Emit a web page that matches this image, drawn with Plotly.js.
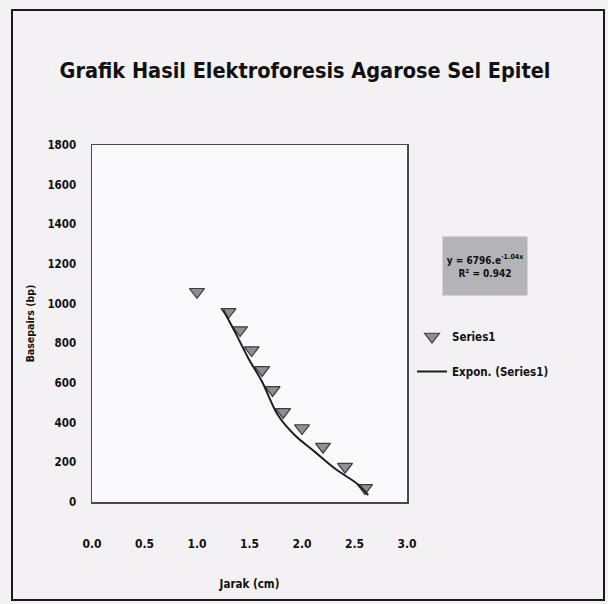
<!DOCTYPE html>
<html>
<head>
<meta charset="utf-8">
<script src="https://cdn.plot.ly/plotly-3.0.1.min.js"></script>
<style>html,body{margin:0;padding:0;background:#f3f1f4;}#chart{width:608px;height:604px;}</style>
</head>
<body>
<div id="chart"></div>
<script>
// Data
const jarak = [1.00, 1.30, 1.41, 1.52, 1.62, 1.72, 1.82, 2.00, 2.20, 2.41, 2.60];
const basepairs = [1060, 959, 867, 766, 666, 565, 454, 373, 279, 178, 71];
const trendX = [1.25, 1.36, 1.49, 1.62, 1.77, 1.93, 2.12, 2.31, 2.54, 2.63];
const trendY = [968, 859, 724, 606, 439, 338, 254, 170, 86, 35];
const xTicks = [0.0, 0.5, 1.0, 1.5, 2.0, 2.5, 3.0];
const yTicks = [0, 200, 400, 600, 800, 1000, 1200, 1400, 1600, 1800];

const FONT = "'DejaVu Sans Condensed', 'Liberation Sans Narrow', sans-serif";

const L = 92, R = 407, T = 145, B = 502, W = 608, H = 604;
const px = v => (v - L) / (R - L);
const py = v => (B - v) / (B - T);

const traces = [
  {
    type: 'scatter', mode: 'markers', name: 'Series1',
    x: jarak, y: basepairs, legendgroup: 'a',
    marker: {symbol: 'triangle-down', size: 13, color: '#8f8f93', line: {color: '#3c3c40', width: 1.2}}
  },
  {
    type: 'scatter', mode: 'lines', name: 'Expon. (Series1)',
    x: trendX, y: trendY, line: {color: '#1e1e22', width: 2, shape: 'spline'}, legendgroup: 'b'
  }
];

const layout = {
  width: W, height: H,
  margin: {l: L, r: W - R, t: T, b: H - B, pad: 0},
  paper_bgcolor: '#f3f1f4',
  plot_bgcolor: '#faf9fb',
  font: {family: FONT, color: '#111'},
  title: {
    text: '<b>Grafik Hasil Elektroforesis Agarose Sel Epitel</b>',
    font: {family: FONT, size: 21.5, color: '#111'},
    xref: 'container', yref: 'container',
    x: 305 / W, xanchor: 'center', y: 1 - 70 / H, yanchor: 'middle'
  },
  xaxis: {
    range: [0, 3], tickvals: xTicks, tickformat: '.1f',
    showgrid: false, zeroline: false,
    showline: true, mirror: true, linecolor: '#4a4a4e', linewidth: 1.5,
    ticks: '', ticklabelstandoff: 30,
    tickfont: {family: FONT, size: 12, color: '#111', weight: 'bold'},
    title: {text: '<b>Jarak (cm)</b>', font: {family: FONT, size: 11.5, color: '#111'}, standoff: 30}
  },
  yaxis: {
    range: [0, 1800], tickvals: yTicks,
    showgrid: false, zeroline: false,
    showline: true, mirror: true, linecolor: '#4a4a4e', linewidth: 1.5,
    ticks: '', ticklabelstandoff: 12,
    tickfont: {family: FONT, size: 11.5, color: '#111', weight: 'bold'},
    title: {text: '<b>Basepairs (bp)</b>', font: {family: FONT, size: 10.5, color: '#111'}, standoff: 10}
  },
  showlegend: true,
  legend: {
    x: px(412), xanchor: 'left', y: py(322), yanchor: 'top',
    bgcolor: 'rgba(0,0,0,0)', traceorder: 'grouped', tracegroupgap: 16,
    font: {family: FONT, size: 11.5, color: '#111', weight: 'bold'}, itemwidth: 30
  },
  annotations: [
    {
      xref: 'paper', yref: 'paper', x: px(485), y: py(266), xanchor: 'center', yanchor: 'middle',
      text: '<b>y = 6796.e<sup>-1.04x</sup></b><br><b>R² = 0.942</b>',
      showarrow: false, align: 'center', bgcolor: '#b4b3b7', borderpad: 2,
      width: 80, height: 54,
      font: {family: FONT, size: 10, color: '#111'}
    }
  ],
  shapes: [
    {type: 'rect', xref: 'paper', yref: 'paper', x0: px(12), x1: px(604), y0: py(600), y1: py(10),
     line: {color: '#1a1a1a', width: 2}, fillcolor: 'rgba(0,0,0,0)', layer: 'below'}
  ]
};

Plotly.newPlot('chart', traces, layout, {displayModeBar: false, staticPlot: true});
</script>
</body>
</html>
